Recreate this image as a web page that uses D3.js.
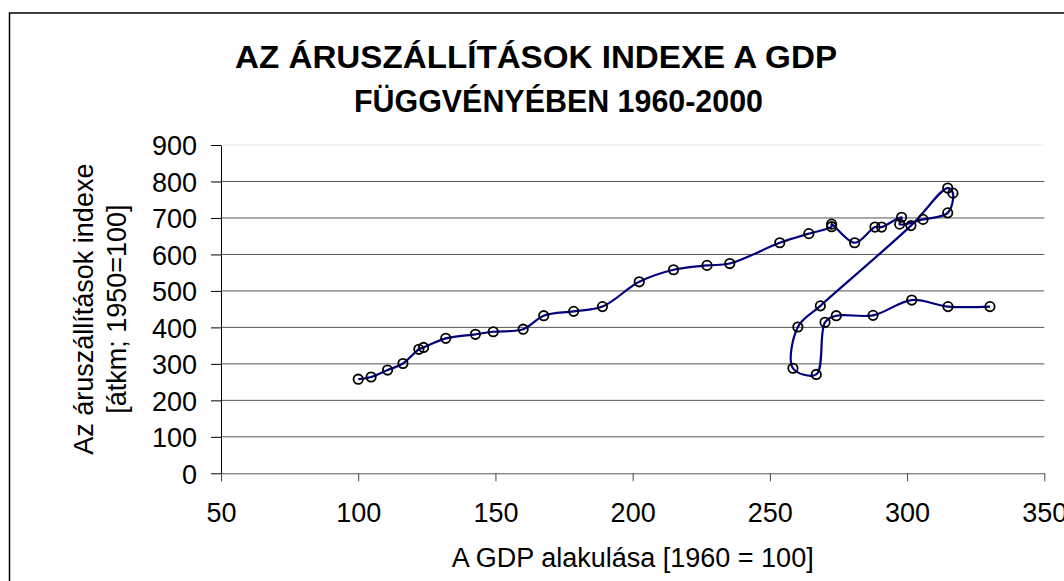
<!DOCTYPE html>
<html>
<head>
<meta charset="utf-8">
<script src="https://cdn.jsdelivr.net/npm/d3@7"></script>
<style>
  body { margin: 0; background: #fff; }
  svg { display: block; font-family: "Liberation Sans", Arial, sans-serif; }
</style>
</head>
<body>
<svg id="chart"></svg>
<script>
// data, 1960-2000
var years = [1960, 1961, 1962, 1963, 1964, 1965, 1966, 1967, 1968, 1969,
  1970, 1971, 1972, 1973, 1974, 1975, 1976, 1977, 1978, 1979,
  1980, 1981, 1982, 1983, 1984, 1985, 1986, 1987, 1988, 1989,
  1990, 1991, 1992, 1993, 1994, 1995, 1996, 1997, 1998, 1999, 2000];
var gdp = [100, 104.7, 110.7, 116.3, 122.1, 123.8, 131.9, 142.7, 149.2, 160.1,
  167.6, 178.5, 189.0, 202.4, 214.9, 227.1, 235.4, 253.6, 264.2, 272.5,
  272.5, 280.9, 288.3, 290.7, 298.0, 297.3, 305.8, 314.8, 316.7, 314.8,
  301.4, 268.4, 260.2, 258.4, 266.9, 270.1, 274.2, 287.6, 301.7, 314.9, 330.2];
var freight = [258, 264, 283, 301, 340, 345, 370, 381, 388, 395,
  432, 444, 457, 525, 558, 570, 575, 632, 657, 676,
  683, 632, 675, 675, 702, 683, 696, 714, 768, 782,
  679, 459, 401, 288, 271, 414, 432, 433, 475, 457, 457];
var xTicks = [50, 100, 150, 200, 250, 300, 350];
var yTicks = [0, 100, 200, 300, 400, 500, 600, 700, 800, 900];
var titleLines = ["AZ ÁRUSZÁLLÍTÁSOK INDEXE A GDP", "FÜGGVÉNYÉBEN 1960-2000"];
var xTitle = "A GDP alakulása [1960 = 100]";
var yTitleLines = ["Az áruszállítások indexe", "[átkm; 1950=100]"];

var width = 1064, height = 581;
var svg = d3.select('#chart').attr('width', width).attr('height', height);

var x = d3.scaleLinear().domain([50, 350]).range([221, 1044.3]);
var y = d3.scaleLinear().domain([0, 900]).range([473.3, 145]);

var points = years.map(function (d, i) {
  return { year: d, gdp: gdp[i], freight: freight[i] };
});

// outer frame (runs off the right and bottom edge)
svg.append('rect')
  .attr('x', 9.5).attr('y', 13)
  .attr('width', 1100).attr('height', 620)
  .attr('fill', '#fff')
  .attr('stroke', '#000')
  .attr('stroke-width', 1.5);

// title
svg.append('text')
  .attr('x', 235).attr('y', 68.3)
  .attr('textLength', 602).attr('lengthAdjust', 'spacingAndGlyphs')
  .attr('font-size', 32).attr('font-weight', 'bold')
  .text(titleLines[0]);
svg.append('text')
  .attr('x', 354).attr('y', 111.7)
  .attr('textLength', 409).attr('lengthAdjust', 'spacingAndGlyphs')
  .attr('font-size', 32).attr('font-weight', 'bold')
  .text(titleLines[1]);

// plot area top edge
svg.append('line')
  .attr('x1', x(50)).attr('x2', x(350))
  .attr('y1', y(900)).attr('y2', y(900))
  .attr('stroke', '#e6e6e6');

// gridlines
svg.append('g')
  .selectAll('line')
  .data(yTicks.filter(function (d) { return d > 0 && d < 900; }))
  .enter()
  .append('line')
  .attr('x1', x(50)).attr('x2', x(350))
  .attr('y1', function (d) { return y(d); })
  .attr('y2', function (d) { return y(d); })
  .attr('stroke', '#555')
  .attr('stroke-width', 1);

// x axis
var gx = svg.append('g')
  .attr('transform', 'translate(0,' + y(0) + ')')
  .call(d3.axisBottom(x).tickValues(xTicks).tickSize(8).tickSizeOuter(0).tickPadding(22));
gx.select('.domain').attr('stroke', '#555');
gx.selectAll('.tick line').attr('stroke', '#444');
gx.selectAll('.tick text')
  .attr('font-size', 27)
  .attr('font-family', '"Liberation Sans", Arial, sans-serif')
  .attr('fill', '#000');

// y axis
var gy = svg.append('g')
  .attr('transform', 'translate(' + x(50) + ',0)')
  .call(d3.axisLeft(y).tickValues(yTicks).tickSize(10).tickSizeOuter(0).tickPadding(14));
gy.select('.domain').attr('stroke', '#000');
gy.selectAll('.tick line').attr('stroke', '#000');
gy.selectAll('.tick text')
  .attr('font-size', 27)
  .attr('dy', '0.36em')
  .attr('font-family', '"Liberation Sans", Arial, sans-serif')
  .attr('fill', '#000');

// axis titles
svg.append('text')
  .attr('x', (x(50) + x(350)) / 2).attr('y', 567)
  .attr('text-anchor', 'middle')
  .attr('font-size', 27)
  .text(xTitle);

var yMid = (y(0) + y(900)) / 2;
svg.append('text')
  .attr('transform', 'translate(93.3,' + yMid + ') rotate(-90)')
  .attr('text-anchor', 'middle')
  .attr('font-size', 27)
  .text(yTitleLines[0]);
svg.append('text')
  .attr('transform', 'translate(126,' + yMid + ') rotate(-90)')
  .attr('text-anchor', 'middle')
  .attr('font-size', 27)
  .text(yTitleLines[1]);

// smoothed trajectory
var line = d3.line()
  .x(function (d) { return x(d.gdp); })
  .y(function (d) { return y(d.freight); })
  .curve(d3.curveCatmullRom.alpha(0.5));

svg.append('path')
  .datum(points)
  .attr('d', line)
  .attr('fill', 'none')
  .attr('stroke', '#000080')
  .attr('stroke-width', 2.2);

// markers
svg.append('g')
  .selectAll('circle')
  .data(points)
  .enter()
  .append('circle')
  .attr('cx', function (d) { return x(d.gdp); })
  .attr('cy', function (d) { return y(d.freight); })
  .attr('r', 4.7)
  .attr('fill', 'none')
  .attr('stroke', '#000')
  .attr('stroke-width', 1.8);
</script>
</body>
</html>
